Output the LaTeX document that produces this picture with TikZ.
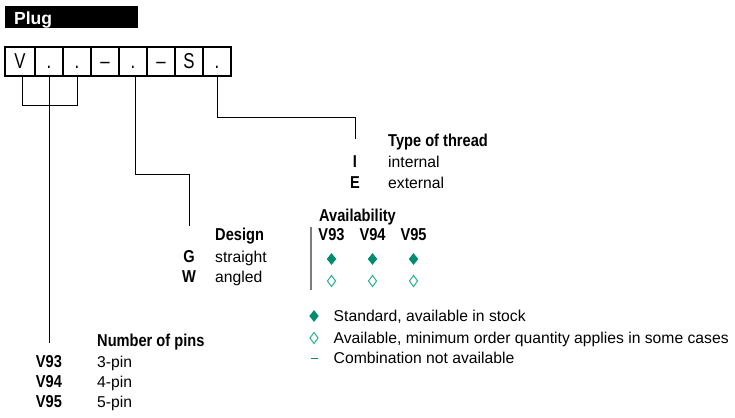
\documentclass[tikz,border=0pt]{standalone}
\usepackage{fontspec}
\setmainfont{Liberation Sans}
\newfontfamily\condbf[FakeStretch=0.85]{Liberation Sans Bold}
\newfontfamily\boxfont[FakeStretch=0.78]{Liberation Sans}
\usetikzlibrary{shapes.geometric}
\definecolor{tealA}{RGB}{0,140,110}
\definecolor{tealB}{RGB}{40,175,145}
\definecolor{bargray}{RGB}{125,125,125}
\begin{document}
\begin{tikzpicture}[x=1pt,y=-1pt,
  reg/.style={font=\fontsize{15.7}{18}\selectfont, anchor=base west, inner sep=0pt},
  bld/.style={font=\fontsize{17.2}{20}\condbf, anchor=base west, inner sep=0pt},
  code/.style={font=\fontsize{17.2}{20}\condbf, anchor=base, inner sep=0pt},
  cell/.style={draw, line width=1.2pt, minimum height=29pt, minimum width=28pt, inner sep=0pt,
    text height=15pt, text depth=0pt, font=\fontsize{21.5}{24}\boxfont},
  conn/.style={line width=0.9pt},
  fdia/.style={diamond, fill=tealA, inner sep=0pt, minimum width=9.5pt, minimum height=12pt},
  odia/.style={diamond, draw=tealB, line width=1pt, inner sep=0pt, minimum width=8.5pt, minimum height=11.5pt},
  ldash/.style={draw=tealA, line width=1.8pt}
]
\useasboundingbox (0,0) rectangle (735,417);

% header
\node[fill=black, minimum width=133pt, minimum height=22pt, inner sep=0pt, anchor=north west] (hdr) at (5,6) {};
\node[text=white, font=\fontsize{17.5}{20}\selectfont\bfseries, anchor=base west, inner sep=0pt] (plug) at (14,25) {Plug};

% code cells
\node[cell, minimum width=30pt] (b1) at (20,61.5) {V};
\node[cell] (b2) at (49,61.5) {.};
\node[cell] (b3) at (77,61.5) {.};
\node[cell] (b4) at (105,61.5) {–};
\node[cell] (b5) at (133,61.5) {.};
\node[cell] (b6) at (161,61.5) {–};
\node[cell] (b7) at (189,61.5) {S};
\node[cell] (b8) at (217,61.5) {.};

% connector ends
\coordinate (pinsend) at (49,343);
\coordinate (desend) at (189,226);
\coordinate (thrend) at (355,139);

\draw[conn] ([xshift=2pt]b1.south) -- ++(0,29) -| (b3.south);
\draw[conn] (b2.south) -- (pinsend);
\draw[conn] ([xshift=2pt]b5.south) -- ++(0,98) -| (desend);
\draw[conn] (b8.south) -- ++(0,41) -| (thrend);

% type of thread
\node[bld] (tt) at (388,146) {Type of thread};
\node[code] (ci) at (355,167) {I};
\node[reg] (ti) at (388,167) {internal};
\node[code] (ce) at (355,188) {E};
\node[reg] (te) at (388,188) {external};

% design
\node[bld] (dt) at (215,240) {Design};
\node[code] (cg) at (189,262) {G};
\node[reg] (tg) at (215,262) {straight};
\node[code] (cw) at (189,282) {W};
\node[reg] (tw) at (215,282) {angled};

% availability
\node[bld] (av) at (319,221.5) {Availability};
\node[code] (v93h) at (331.5,240) {V93};
\node[code] (v94h) at (372.5,240) {V94};
\node[code] (v95h) at (413.5,240) {V95};
\coordinate (bartop) at (311,227);
\coordinate (barbot) at (311,290);
\draw[bargray, line width=1.5pt] (bartop) -- (barbot);
\node[fdia] (g93) at (331.5,259) {};
\node[fdia] (g94) at (372.5,259) {};
\node[fdia] (g95) at (413.5,259) {};
\node[odia] (w93) at (331.5,281) {};
\node[odia] (w94) at (372.5,281) {};
\node[odia] (w95) at (413.5,281) {};

% legend
\node[fdia] (lf) at (314,316) {};
\node[reg] (lft) at (333.5,321) {Standard, available in stock};
\node[odia] (lo) at (314,338) {};
\node[reg] (lot) at (333.5,343) {Available, minimum order quantity applies in some cases};
\coordinate (ld1) at (310.5,358.5);
\coordinate (ld2) at (317.5,358.5);
\draw[ldash] (ld1) -- (ld2);
\node[reg] (ldt) at (333.5,363.5) {Combination not available};

% number of pins
\node[bld] (np) at (97,346) {Number of pins};
\node[code] (p3) at (49,367) {V93};
\node[reg] (t3) at (97,367) {3-pin};
\node[code] (p4) at (49,387.5) {V94};
\node[reg] (t4) at (97,387.5) {4-pin};
\node[code] (p5) at (49,407.5) {V95};
\node[reg] (t5) at (97,407.5) {5-pin};
\end{tikzpicture}
\end{document}
